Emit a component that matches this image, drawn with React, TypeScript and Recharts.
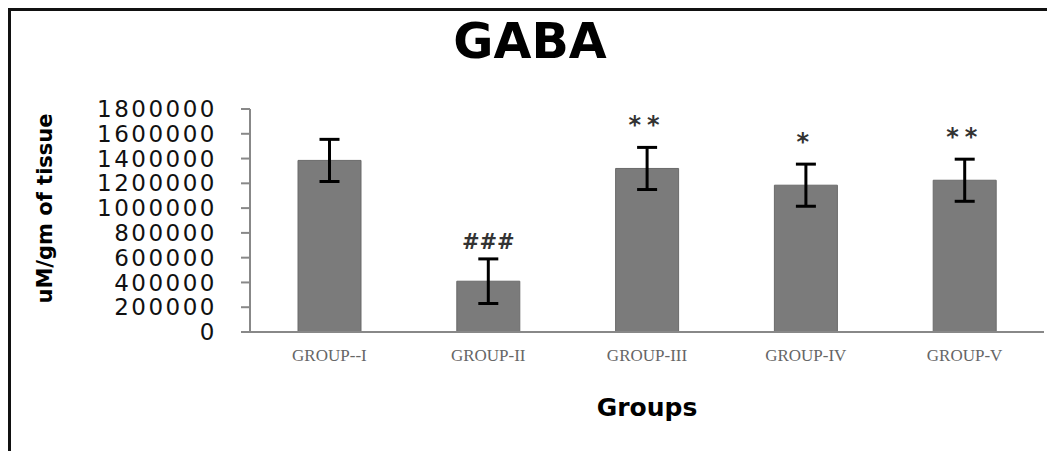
import { BarChart, Bar, XAxis, YAxis, ErrorBar, LabelList } from 'recharts'

const groups = ['GROUP--I', 'GROUP-II', 'GROUP-III', 'GROUP-IV', 'GROUP-V']
const gaba = [1385000, 410000, 1320000, 1185000, 1225000]
const sem = [170000, 180000, 170000, 170000, 170000]
const marks = ['', '###', '**', '*', '**']
const yTicks = [0, 200000, 400000, 600000, 800000, 1000000, 1200000, 1400000, 1600000, 1800000]
const edgeTicks = [0, 1, 2, 3, 4, 5]

const data = groups.map((g, i) => ({ group: g, gaba: gaba[i], sem: sem[i], mark: marks[i] }))

const W = 1047
const H = 451

// significance marks sit just above the error bar cap
function MarkLabel(props: any) {
  const { x, y, width, height, index } = props
  const row = data[index]
  if (!row || !row.mark) return null
  const top = y - row.sem * (height / row.gaba)
  const isHash = row.mark.includes('#')
  return (
    <text
      x={x + width / 2}
      y={top - (isHash ? 10 : 14)}
      textAnchor="middle"
      fill="#333"
      fontFamily="DejaVu Sans"
      fontWeight="bold"
      fontSize={isHash ? 21 : 24}
      letterSpacing={isHash ? 0 : 6}
    >
      {row.mark}
    </text>
  )
}

function YTitle(props: any) {
  const { viewBox } = props
  const cx = viewBox.x + 35
  const cy = viewBox.y + viewBox.height / 2 - 12
  return (
    <text
      x={cx}
      y={cy}
      transform={`rotate(-90 ${cx} ${cy})`}
      textAnchor="middle"
      dominantBaseline="central"
      fill="#000"
      fontSize={21}
      fontWeight="bold"
      fontFamily="DejaVu Sans"
    >
      uM/gm of tissue
    </text>
  )
}

export default function App() {
  return (
    <div style={{ position: 'absolute', left: 0, top: 0, width: W, height: H, background: '#fff' }}>
      <div
        style={{
          position: 'absolute',
          left: 8,
          top: 8,
          right: 0,
          bottom: 0,
          borderTop: '3px solid #111',
          borderLeft: '3px solid #111',
        }}
      />
      <div
        style={{
          position: 'absolute',
          left: 330,
          width: 400,
          top: 13,
          textAlign: 'center',
          fontFamily: 'DejaVu Sans',
          fontWeight: 'bold',
          fontSize: 49,
          color: '#000',
        }}
      >
        GABA
      </div>
      <BarChart
        width={W}
        height={H}
        data={data}
        margin={{ top: 109, right: 3, bottom: 29, left: 10 }}
        style={{ position: 'absolute', left: 0, top: 0 }}
      >
        <XAxis
          xAxisId="a"
          type="number"
          domain={[0, 5]}
          ticks={edgeTicks}
          tick={false}
          tickSize={8}
          height={10}
          stroke="#888"
          strokeWidth={2}
        />
        <XAxis
          xAxisId="z"
          dataKey="group"
          height={80}
          axisLine={false}
          tickLine={false}
          tickMargin={1}
          tick={{ fill: '#666', fontSize: 17, fontFamily: 'Liberation Serif' }}
          label={{
            value: 'Groups',
            position: 'insideBottom',
            offset: 6,
            fill: '#000',
            fontSize: 25,
            fontWeight: 'bold',
            fontFamily: 'DejaVu Sans',
          }}
        />
        <YAxis
          width={240}
          domain={[0, 1800000]}
          ticks={yTicks}
          interval={0}
          tickSize={9}
          tickMargin={24}
          stroke="#888"
          strokeWidth={2}
          tick={{ fill: '#111', fontSize: 23, fontFamily: 'DejaVu Sans', letterSpacing: 2.5 }}
          label={<YTitle />}
        />
        <Bar xAxisId="z" dataKey="gaba" barSize={63} fill="#7b7b7b" stroke="#6a6a6a" isAnimationActive={false}>
          <ErrorBar dataKey="sem" width={10} stroke="#000" strokeWidth={3} />
          <LabelList dataKey="mark" content={<MarkLabel />} />
        </Bar>
      </BarChart>
    </div>
  )
}
